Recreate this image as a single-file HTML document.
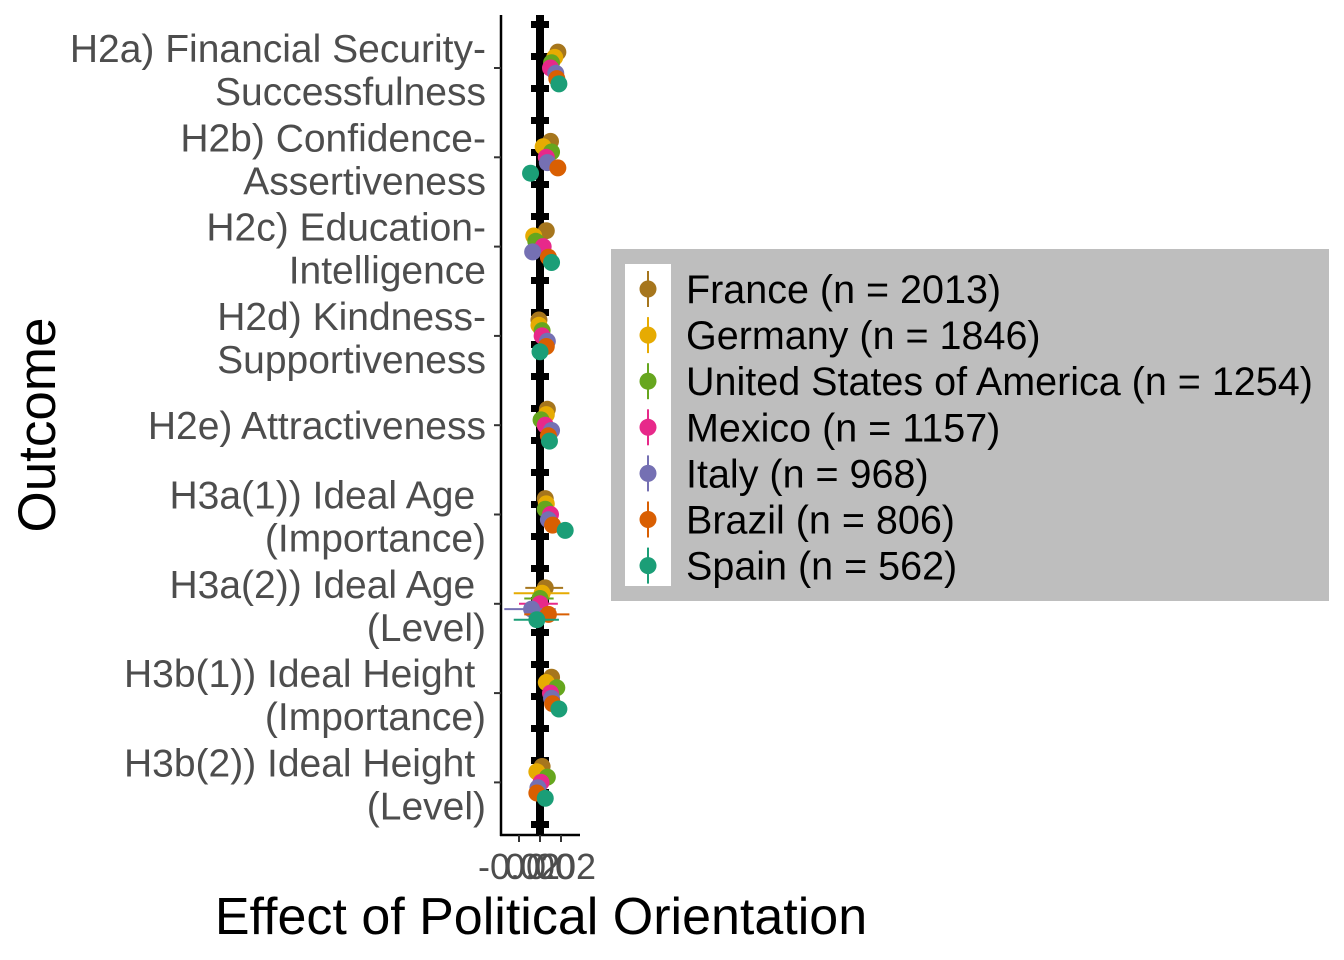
<!DOCTYPE html>
<html><head><meta charset="utf-8"><style>
html,body{margin:0;padding:0;background:#fff;}
svg{display:block;font-family:"Liberation Sans",Arial,sans-serif;}
</style></head><body>
<svg id="chart" width="1344" height="960" viewBox="0 0 1344 960">
<g id="plot"></g>
</svg>
<script>
const outcomes = [["H2a) Financial Security-","Successfulness"],["H2b) Confidence-","Assertiveness"],["H2c) Education-","Intelligence"],["H2d) Kindness-","Supportiveness"],["H2e) Attractiveness"],["H3a(1)) Ideal Age ","(Importance)"],["H3a(2)) Ideal Age ","(Level)"],["H3b(1)) Ideal Height ","(Importance)"],["H3b(2)) Ideal Height ","(Level)"]];
const countries = ["France (n = 2013)","Germany (n = 1846)","United States of America (n = 1254)","Mexico (n = 1157)","Italy (n = 968)","Brazil (n = 806)","Spain (n = 562)"];
const colors = ["#A6761D","#E6AB02","#66A61E","#E7298A","#7570B3","#D95F02","#1B9E77"];
const est = [
 [0.017,0.014,0.011,0.010,0.015,0.016,0.018],
 [0.010,0.003,0.011,0.006,0.007,0.017,-0.009],
 [0.006,-0.006,-0.004,0.003,-0.007,0.008,0.011],
 [-0.001,-0.001,0.002,0.002,0.007,0.006,0.000],
 [0.007,0.006,0.001,0.005,0.011,0.008,0.009],
 [0.005,0.006,0.005,0.010,0.008,0.012,0.024],
 [0.005,0.002,0.000,0.000,-0.008,0.008,-0.003],
 [0.011,0.006,0.016,0.010,0.011,0.012,0.018],
 [0.002,-0.003,0.007,0.001,-0.002,-0.003,0.005]];
const lo = [
 [0.015,0.012,0.009,0.008,0.013,0.014,0.016],
 [0.008,0.001,0.009,0.004,0.005,0.015,-0.011],
 [0.004,-0.008,-0.006,0.001,-0.009,0.006,0.009],
 [-0.003,-0.003,0.000,0.000,0.005,0.004,-0.002],
 [0.005,0.004,-0.001,0.003,0.009,0.006,0.007],
 [0.003,0.004,0.003,0.007,0.004,0.008,0.020],
 [-0.014,-0.025,-0.015,-0.020,-0.034,-0.015,-0.025],
 [0.009,0.004,0.014,0.007,0.006,0.006,0.014],
 [0.000,-0.005,0.005,-0.001,-0.004,-0.005,0.003]];
const hi = [
 [0.019,0.016,0.013,0.012,0.017,0.018,0.020],
 [0.012,0.005,0.013,0.008,0.009,0.019,-0.007],
 [0.008,-0.004,-0.002,0.005,-0.005,0.010,0.013],
 [0.001,0.001,0.004,0.004,0.009,0.008,0.002],
 [0.009,0.008,0.003,0.007,0.013,0.010,0.011],
 [0.007,0.008,0.007,0.013,0.012,0.016,0.028],
 [0.022,0.028,0.013,0.017,0.015,0.028,0.018],
 [0.013,0.008,0.018,0.013,0.016,0.018,0.022],
 [0.004,-0.001,0.009,0.003,0.000,-0.001,0.007]];
const xTicks = [-0.02,0,0.02];
const xTickLabels = ["-0.02","0.00","0.02"];

const NS="http://www.w3.org/2000/svg";
const g=document.getElementById('plot');
function mk(t,a,p){const e=document.createElementNS(NS,t);for(const k in a)e.setAttribute(k,a[k]);(p||g).appendChild(e);return e;}
const x=v=>540+v*1050;
const y0=68, dy=89.3;
const y=i=>y0+i*dy;
const dodge=j=>(j-3)*5.3;

let zl=mk('rect',{x:536,y:15,width:8,height:820,fill:'#000'});


for(let yy=21;yy<835;yy+=32){let b=mk('rect',{x:531,y:yy,width:18,height:7,fill:'#000'});

}

for(let i=0;i<outcomes.length;i++){
 for(let j=0;j<countries.length;j++){
  const cy=y(i)+dodge(j);
  let l=mk('line',{x1:x(lo[i][j]),x2:x(hi[i][j]),y1:cy,y2:cy,stroke:colors[j],'stroke-width':2});
  
  
  let c=mk('circle',{cx:x(est[i][j]),cy:cy,r:8.5,fill:colors[j]});
  
  
 }
}
let ya=mk('line',{x1:501,x2:501,y1:15,y2:836,stroke:'#000','stroke-width':2.5});


let xa=mk('line',{x1:500,x2:580,y1:835,y2:835,stroke:'#000','stroke-width':2.5});


for(let i=0;i<outcomes.length;i++){
 let t=mk('line',{x1:494,x2:501,y1:y(i),y2:y(i),stroke:'#333','stroke-width':2});
 
 
 const lines=outcomes[i];
 const txt=mk('text',{x:486,'text-anchor':'end','font-size':39,fill:'#4d4d4d'});
 
 
 txt.style.whiteSpace='pre';
 const start=lines.length===1? y(i)+14 : y(i)-6;
 lines.forEach((s,k)=>{const ts=mk('tspan',{x:486,y:start+k*43},txt);ts.textContent=s;});
}
xTicks.forEach((v,k)=>{
 let t=mk('line',{x1:x(v),x2:x(v),y1:835,y2:842,stroke:'#333','stroke-width':2});
 
 
 let tl=mk('text',{x:x(v),y:879,'text-anchor':'middle','font-size':36,fill:'#4d4d4d'});
 
 
 tl.textContent=xTickLabels[k];
});
let xt=mk('text',{x:541,y:934,'text-anchor':'middle','font-size':52,fill:'#000'});


xt.textContent='Effect of Political Orientation';
let yt=mk('text',{x:0,y:0,'text-anchor':'middle','font-size':53,fill:'#000',transform:'translate(55,425) rotate(-90)'});


yt.textContent='Outcome';

let lb=mk('rect',{x:611,y:249,width:718,height:352,fill:'#bebebe'});


let lk=mk('rect',{x:625,y:264,width:46,height:322,fill:'#fff'});


countries.forEach((n,j)=>{
 const cy=289+j*46.1;
 let l=mk('line',{x1:648,x2:648,y1:cy-18,y2:cy+18,stroke:colors[j],'stroke-width':2});
 
 
 let c=mk('circle',{cx:648,cy:cy,r:8.5,fill:colors[j]});
 
 
 let t=mk('text',{x:686,y:cy+14,'font-size':39.5,fill:'#000'});
 
 
 t.textContent=n;
});
</script>
</body></html>
